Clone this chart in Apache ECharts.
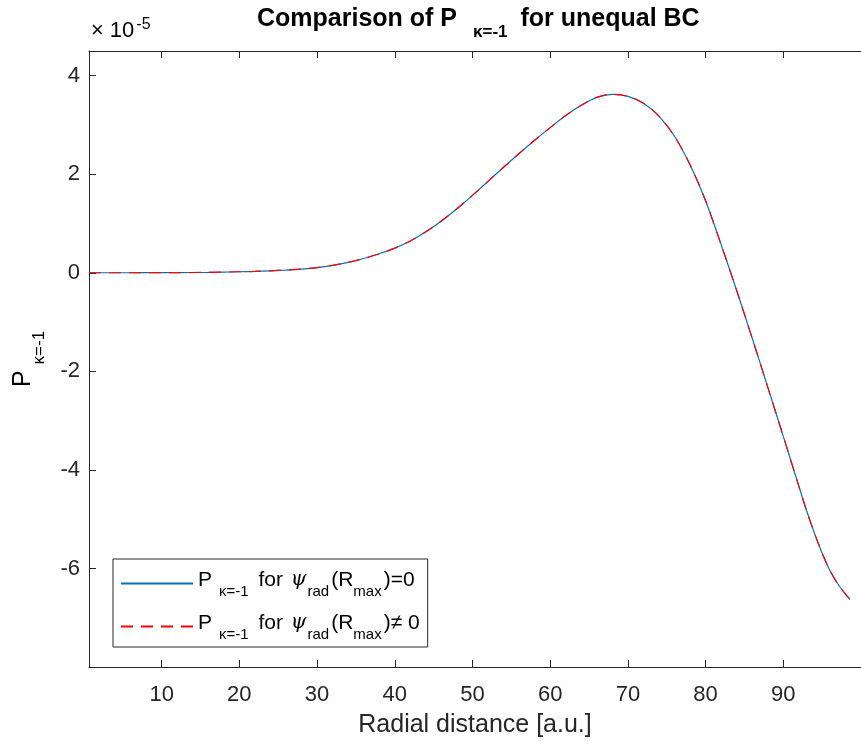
<!DOCTYPE html>
<html>
<head>
<meta charset="utf-8">
<script src="https://cdn.jsdelivr.net/npm/echarts@6/dist/echarts.min.js"></script>
<style>html,body{margin:0;padding:0;background:#fff}#c{width:861px;height:749px}</style>
</head>
<body>
<div id="c"></div>
<script>
// Radial distance [a.u.]
const radialX = [0.65, 4, 8, 12, 16, 20, 22, 24, 26, 28, 30, 32, 34, 36, 38, 40, 42, 44, 46, 48, 50, 52, 54, 56, 58, 60, 62, 64, 66, 68, 70, 72, 74, 76, 78, 80, 82, 84, 86, 88, 90, 92, 93, 94, 95, 96, 97, 98, 98.6];
// P_{kappa=-1} (units of 1e-5), psi_rad(Rmax)=0
const pZeroBC = [0, 0, 0.001, 0.003, 0.008, 0.02, 0.028, 0.04, 0.055, 0.075, 0.105, 0.15, 0.21, 0.29, 0.385, 0.50, 0.645, 0.83, 1.05, 1.30, 1.57, 1.855, 2.14, 2.42, 2.69, 2.945, 3.19, 3.40, 3.56, 3.62, 3.58, 3.44, 3.18, 2.77, 2.19, 1.46, 0.57, -0.36, -1.33, -2.32, -3.32, -4.33, -4.83, -5.28, -5.69, -6.04, -6.31, -6.52, -6.63];
// P_{kappa=-1} (units of 1e-5), psi_rad(Rmax)!=0
const pNonZeroBC = [0, 0, 0.001, 0.003, 0.008, 0.02, 0.028, 0.04, 0.055, 0.075, 0.105, 0.15, 0.21, 0.29, 0.385, 0.50, 0.645, 0.83, 1.05, 1.30, 1.57, 1.855, 2.14, 2.42, 2.69, 2.945, 3.19, 3.40, 3.56, 3.62, 3.58, 3.44, 3.18, 2.77, 2.19, 1.46, 0.57, -0.36, -1.33, -2.32, -3.32, -4.33, -4.83, -5.28, -5.69, -6.04, -6.31, -6.52, -6.63];
const xTicks = [10, 20, 30, 40, 50, 60, 70, 80, 90];
const yTicks = [-6, -4, -2, 0, 2, 4];
const seriesNames = ['P_{κ=-1} for ψ_{rad}(R_{max})=0', 'P_{κ=-1} for ψ_{rad}(R_{max})≠ 0'];
const legendRich = [
  '{m|P}{s|κ=-1}{m| for }{g|ψ}{s2|rad}{m|(R}{s2|max}{m|)=0}',
  '{m|P}{s|κ=-1}{m| for }{g|ψ}{s2|rad}{m|(R}{s2|max}{m|)≠ 0}'
];

const FONT = '"Liberation Sans", Arial, Helvetica, sans-serif';
const AX = '#262626';
const chart = echarts.init(document.getElementById('c'), null, {renderer: 'canvas'});

const xAxisCommon = {
  type: 'value', min: 0.65, max: 100,
  splitLine: {show: false},
  axisLine: {show: true, onZero: false, lineStyle: {color: AX, width: 1}},
  axisTick: {show: true, inside: true, length: 7, customValues: xTicks, lineStyle: {color: AX}}
};

chart.setOption({
  animation: false,
  backgroundColor: '#ffffff',
  title: {
    text: '{t|Comparison of P}{s|κ=-1}{t| for unequal BC}',
    left: 257, top: 4, padding: 0,
    textStyle: {
      rich: {
        t: {fontFamily: FONT, fontSize: 25, fontWeight: 'bold', color: '#000', height: 30, lineHeight: 30, verticalAlign: 'top'},
        s: {fontFamily: FONT, fontSize: 17, fontWeight: 'bold', color: '#000', height: 17, lineHeight: 37, verticalAlign: 'bottom', padding: [0, 6, 0, 16]}
      }
    }
  },
  grid: {left: 89, top: 51, right: -11, bottom: 82, containLabel: false},
  xAxis: [
    Object.assign({}, xAxisCommon, {
      position: 'bottom',
      name: 'Radial distance [a.u.]', nameLocation: 'middle', nameGap: 46,
      nameTextStyle: {fontFamily: FONT, fontSize: 25, color: AX},
      axisLabel: {show: true, customValues: xTicks, margin: 17, fontFamily: FONT, fontSize: 22, color: AX}
    }),
    Object.assign({}, xAxisCommon, {
      position: 'top',
      axisLabel: {show: false}
    })
  ],
  yAxis: {
    type: 'value', min: -8, max: 4.5,
    splitLine: {show: false},
    axisLine: {show: true, onZero: false, lineStyle: {color: AX, width: 1}},
    axisTick: {show: true, inside: true, length: 7, customValues: yTicks, lineStyle: {color: AX}},
    axisLabel: {show: true, customValues: yTicks, margin: 9, fontFamily: FONT, fontSize: 22, color: AX}
  },
  legend: {
    orient: 'vertical', left: 113, top: 559,
    itemWidth: 72, itemHeight: 14, itemGap: 12,
    padding: [9, 8, 5, 7],
    borderColor: AX, borderWidth: 1, borderRadius: 0, backgroundColor: '#fff',
    itemStyle: {opacity: 0},
    data: seriesNames,
    formatter: function (name) { return legendRich[seriesNames.indexOf(name)]; },
    textStyle: {
      rich: {
        m: {fontFamily: FONT, fontSize: 21, color: '#000', height: 24, lineHeight: 24, verticalAlign: 'top'},
        g: {fontFamily: '"DejaVu Serif", serif', fontStyle: 'italic', fontSize: 20, color: '#000', height: 24, lineHeight: 24, verticalAlign: 'top', padding: [0, 1, 0, 2]},
        s: {fontFamily: FONT, fontSize: 15, color: '#000', height: 15, lineHeight: 31, verticalAlign: 'bottom', padding: [0, 4, 0, 7]},
        s2: {fontFamily: FONT, fontSize: 15, color: '#000', height: 15, lineHeight: 31, verticalAlign: 'bottom', padding: [0, 2, 0, 0]}
      }
    }
  },
  graphic: [
    {
      type: 'text', x: 91, y: 17, silent: true,
      style: {
        text: '{x|×}{b|10}{e|-5}',
        rich: {
          x: {fontFamily: FONT, fontSize: 22, color: AX, height: 28, lineHeight: 28, verticalAlign: 'bottom', padding: [0, 6, 0, 0]},
          b: {fontFamily: FONT, fontSize: 22, color: AX, height: 28, lineHeight: 28, verticalAlign: 'bottom'},
          e: {fontFamily: FONT, fontSize: 16, color: AX, height: 16, lineHeight: 28, verticalAlign: 'top', padding: [0, 0, 0, 2]}
        }
      }
    },
    {
      type: 'text', x: 8, y: 359, rotation: Math.PI / 2, silent: true,
      style: {
        text: '{p|P}{s|κ=-1}',
        align: 'center', verticalAlign: 'top',
        rich: {
          p: {fontFamily: FONT, fontSize: 25, color: AX, height: 30, lineHeight: 30, verticalAlign: 'top'},
          s: {fontFamily: FONT, fontSize: 17, color: AX, height: 17, lineHeight: 40, verticalAlign: 'bottom', padding: [0, 0, 0, 6]}
        }
      }
    }
  ],
  series: [
    {
      name: seriesNames[0], type: 'line', xAxisIndex: 0, showSymbol: false, symbol: 'none',
      smooth: 0.3, clip: true,
      lineStyle: {color: '#0072BD', width: 1.2, type: 'solid'},
      itemStyle: {color: '#0072BD'},
      data: radialX.map((x, i) => [x, pZeroBC[i]])
    },
    {
      name: seriesNames[1], type: 'line', xAxisIndex: 0, showSymbol: false, symbol: 'none',
      smooth: 0.3, clip: true,
      lineStyle: {color: '#FF0000', width: 1.2, type: [12, 8]},
      itemStyle: {color: '#FF0000'},
      data: radialX.map((x, i) => [x, pNonZeroBC[i]])
    }
  ]
});
</script>
</body>
</html>
